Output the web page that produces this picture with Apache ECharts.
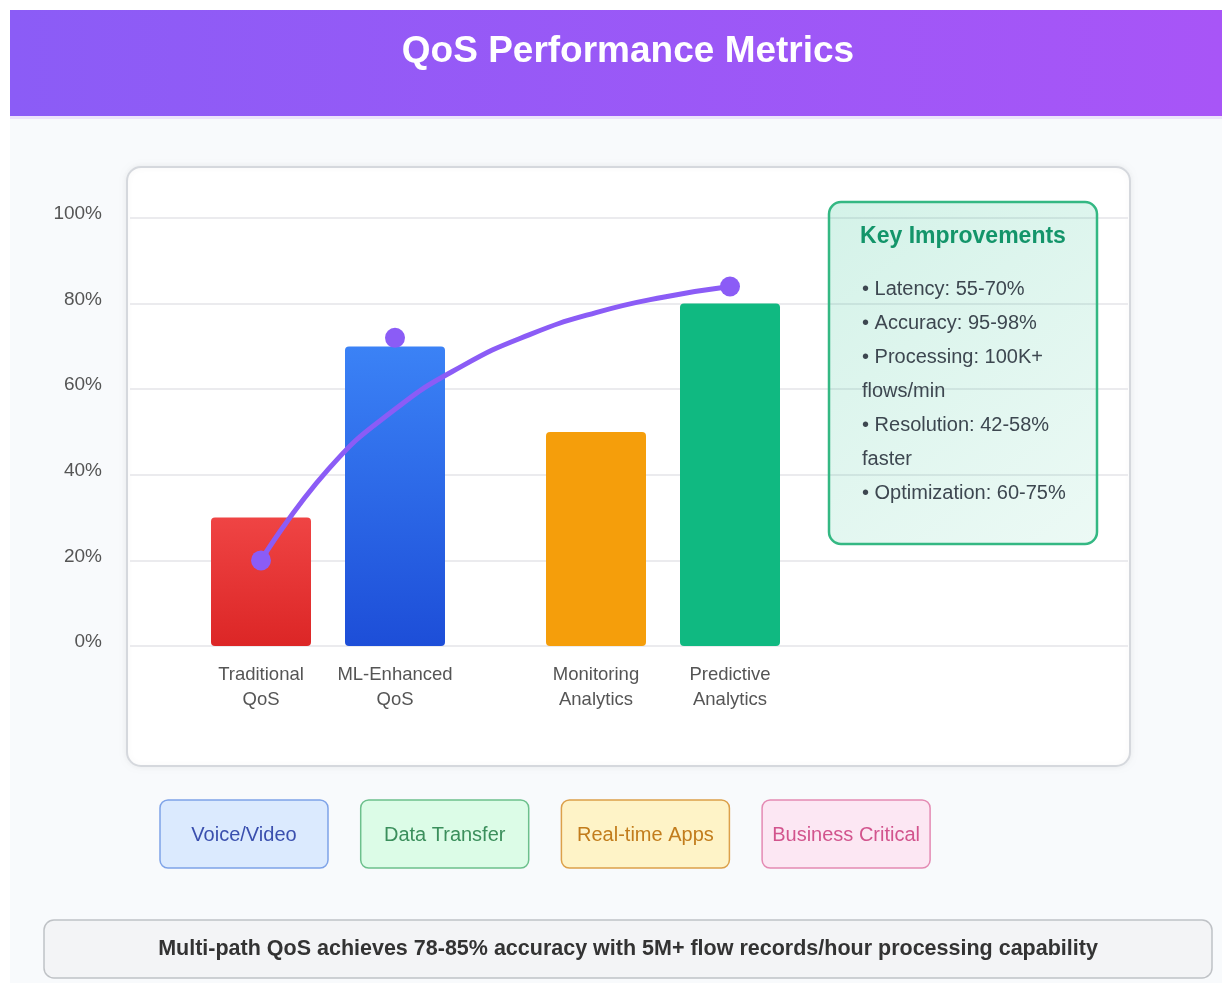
<!DOCTYPE html>
<html>
<head>
<meta charset="utf-8">
<script src="https://cdn.jsdelivr.net/npm/echarts@6/dist/echarts.min.js"></script>
<style>
  html, body { margin: 0; padding: 0; background: #ffffff; }
  #chart { width: 1222px; height: 983px; }
</style>
</head>
<body>
<div id="chart"></div>
<script>
const FONT = "'Liberation Sans', Arial, sans-serif";

// empty slots keep the uneven spacing of the original layout
const categories = ["Traditional\nQoS", "", "ML-Enhanced\nQoS", "", "", "Monitoring\nAnalytics", "", "Predictive\nAnalytics"];
const barValues = [30, null, 70, null, null, 50, null, 80];
const curveValues = [20, 41.2, 55.3, 65.4, 72.7, 77.9, 81.5, 84];
const markerValues = [20, null, 72, null, null, null, null, 84];
const yTicks = [0, 20, 40, 60, 80, 100];

const keyTitle = "Key Improvements";
const keyLines = ["• Latency: 55-70%", "• Accuracy: 95-98%", "• Processing: 100K+", "flows/min", "• Resolution: 42-58%", "faster", "• Optimization: 60-75%"];
const qosClasses = ["Voice/Video", "Data Transfer", "Real-time Apps", "Business Critical"];
const footerNote = "Multi-path QoS achieves 78-85% accuracy with 5M+ flow records/hour processing capability";

const BAR_COLORS = [
  ["#ef4444", "#dc2626"], null, ["#3b82f6", "#1d4ed8"], null, null,
  ["#f59e0b", "#f59e0b"], null, ["#10b981", "#10b981"]
];
const CLASS_STYLES = [
  { fill: "#dbeafe", stroke: "#7ea3e8", text: "#3a4fae" },
  { fill: "#dcfce7", stroke: "#6cc08c", text: "#3b8f5c" },
  { fill: "#fef3c7", stroke: "#dca04a", text: "#c27c1c" },
  { fill: "#fce7f3", stroke: "#e48ab3", text: "#d2548d" }
];
const LINE_COLOR = "#8b5cf6";

const chart = echarts.init(document.getElementById("chart"), null, { renderer: "canvas" });

const grad = (a, b) => new echarts.graphic.LinearGradient(0, 0, 0, 1, [
  { offset: 0, color: a }, { offset: 1, color: b }
]);

const graphics = [
  { type: "rect", z: -20, shape: { x: 10, y: 116, width: 1212, height: 867 }, style: { fill: "#f8fafc" } },
  {
    type: "rect", z: -10, shape: { x: 10, y: 10, width: 1212, height: 106 },
    style: { fill: new echarts.graphic.LinearGradient(0, 0, 1, 0, [
      { offset: 0, color: "#8b5cf6" }, { offset: 1, color: "#a855f7" }]) }
  },
  { type: "rect", z: -10, shape: { x: 10, y: 116, width: 1212, height: 3 }, style: { fill: "#ece3fb" } },
  {
    type: "text", z: 5, x: 628, y: 52,
    style: { text: "QoS Performance Metrics", fill: "#ffffff", fontFamily: FONT, fontWeight: "bold", fontSize: 37, textAlign: "center", textVerticalAlign: "middle" }
  },
  {
    type: "rect", z: -5, shape: { x: 127, y: 167, width: 1003, height: 599, r: 14 },
    style: { fill: "#ffffff", stroke: "#d5d8dd", lineWidth: 2, shadowBlur: 6, shadowColor: "rgba(0,0,0,0.06)" }
  },
  // key improvements box
  {
    type: "rect", z: 10, shape: { x: 829, y: 202, width: 268, height: 342, r: 12 },
    style: { fill: new echarts.graphic.LinearGradient(0, 0, 1, 1, [
      { offset: 0, color: "rgba(16,185,129,0.18)" }, { offset: 1, color: "rgba(16,185,129,0.08)" }]),
      stroke: "#34b883", lineWidth: 2.5 }
  },
  {
    type: "text", z: 11, x: 963, y: 237,
    style: { text: keyTitle, fill: "#13956a", fontFamily: FONT, fontWeight: "bold", fontSize: 23, textAlign: "center", textVerticalAlign: "middle" }
  },
  ...keyLines.map((t, i) => ({
    type: "text", z: 11, x: 862, y: 289 + i * 34,
    style: { text: t, fill: "#3d4750", fontFamily: FONT, fontSize: 20, textAlign: "left", textVerticalAlign: "middle" }
  })),
  // QoS class tags
  ...qosClasses.flatMap((t, i) => {
    const x = 160 + i * 200.7;
    const s = CLASS_STYLES[i];
    return [
      { type: "rect", z: 5, shape: { x: x, y: 800, width: 168, height: 68, r: 8 }, style: { fill: s.fill, stroke: s.stroke, lineWidth: 1.5 } },
      { type: "text", z: 6, x: x + 84, y: 835, style: { text: t, fill: s.text, fontFamily: FONT, fontSize: 20, textAlign: "center", textVerticalAlign: "middle" } }
    ];
  }),
  // footer note
  {
    type: "rect", z: 5, shape: { x: 44, y: 920, width: 1168, height: 58, r: 10 },
    style: { fill: "#f3f4f6", stroke: "#bfc2c6", lineWidth: 1.5 }
  },
  {
    type: "text", z: 6, x: 628, y: 949,
    style: { text: footerNote, fill: "#333333", fontFamily: FONT, fontWeight: "bold", fontSize: 21.5, textAlign: "center", textVerticalAlign: "middle" }
  }
];

chart.setOption({
  animation: false,
  textStyle: { fontFamily: FONT },
  grid: [
    { left: 130, right: 94, top: 218, bottom: 337 },
    { left: 227.5, width: 536, top: 218, bottom: 337 }
  ],
  xAxis: [
    { gridIndex: 0, type: "value", min: 0, max: 1, show: false },
    {
      gridIndex: 1, type: "category", data: categories, boundaryGap: true,
      axisLine: { show: false }, axisTick: { show: false },
      axisLabel: { interval: 0, margin: 16, color: "#555555", fontSize: 18.5, lineHeight: 25, fontFamily: FONT }
    }
  ],
  yAxis: [
    {
      gridIndex: 0, type: "value", min: yTicks[0], max: yTicks[yTicks.length - 1], interval: 20,
      axisLine: { show: false }, axisTick: { show: false },
      axisLabel: { formatter: "{value}%", margin: 28, color: "#555555", fontSize: 19, fontFamily: FONT, verticalAlign: "bottom", lineHeight: 8 },
      splitLine: { lineStyle: { color: "#ebebee", width: 2 } }
    },
    { gridIndex: 1, type: "value", min: 0, max: 100, show: false, splitLine: { show: false } }
  ],
  series: [
    {
      type: "bar", xAxisIndex: 1, yAxisIndex: 1, barWidth: 100, z: 2, clip: false,
      data: barValues.map((v, i) => v == null ? "-" : {
        value: v,
        itemStyle: { color: grad(BAR_COLORS[i][0], BAR_COLORS[i][1]), borderRadius: 4 }
      })
    },
    {
      type: "line", xAxisIndex: 1, yAxisIndex: 1, z: 3, clip: false,
      data: curveValues, smooth: true, showSymbol: false,
      lineStyle: { color: LINE_COLOR, width: 5, cap: "round", join: "round" }
    },
    {
      type: "scatter", xAxisIndex: 1, yAxisIndex: 1, z: 4, clip: false,
      data: markerValues.map(v => v == null ? "-" : v),
      symbolSize: 20, itemStyle: { color: LINE_COLOR, opacity: 1 }
    }
  ],
  graphic: graphics
});
</script>
</body>
</html>
